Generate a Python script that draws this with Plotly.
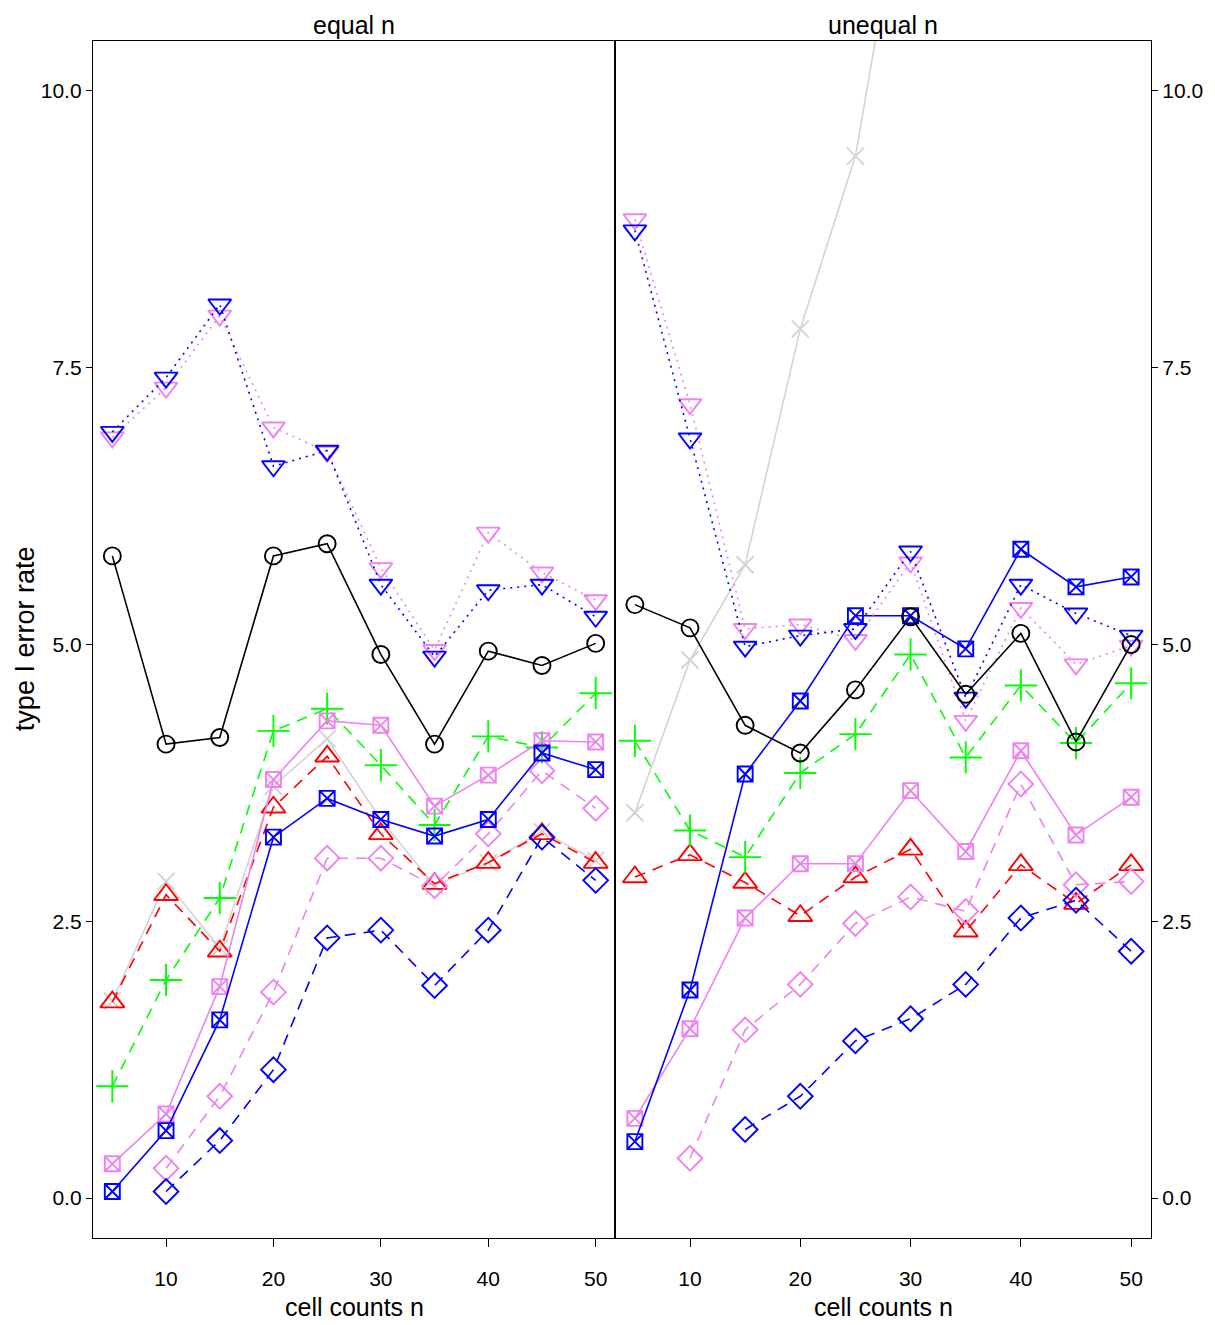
import plotly.graph_objects as go

n = [5, 10, 15, 20, 25, 30, 35, 40, 45, 50]
panels = ["equal n", "unequal n"]
y_ticks = [0.0, 2.5, 5.0, 7.5, 10.0]
y_tick_text = ["0.0", "2.5", "5.0", "7.5", "10.0"]
x_ticks = [10, 20, 30, 40, 50]

# equal n panel
eq_black = [5.80, 4.10, 4.16, 5.80, 5.91, 4.91, 4.10, 4.94, 4.81, 5.01]
eq_grey = [1.78, 2.86, 2.26, 3.72, 4.15, 3.42, 2.82, 3.03, 3.31, 3.05]
eq_red = [1.77, 2.74, 2.23, 3.53, 3.99, 3.29, 2.84, 3.03, 3.29, 3.03]
eq_green = [1.01, 1.97, 2.71, 4.22, 4.42, 3.91, 3.37, 4.17, 4.07, 4.56]
eq_violet_dia = [None, 0.27, 0.92, 1.86, 3.07, 3.07, 2.82, 3.29, 3.86, 3.52]
eq_blue_dia = [None, 0.06, 0.52, 1.16, 2.35, 2.42, 1.92, 2.42, 3.26, 2.87]
eq_violet_sq = [0.31, 0.76, 1.91, 3.78, 4.31, 4.27, 3.54, 3.82, 4.13, 4.12]
eq_blue_sq = [0.06, 0.61, 1.61, 3.26, 3.61, 3.42, 3.27, 3.42, 4.02, 3.87]
eq_violet_tri = [6.87, 7.32, 7.97, 6.96, 6.74, 5.69, 4.95, 6.01, 5.65, 5.40]
eq_blue_tri = [6.92, 7.41, 8.07, 6.61, 6.75, 5.54, 4.89, 5.49, 5.54, 5.25]

# unequal n panel
un_black = [5.36, 5.15, 4.27, 4.02, 4.59, 5.25, 4.55, 5.10, 4.12, 5.00]
un_grey = [3.48, 4.86, 5.72, 7.85, 9.41, 12.3, 14.6, 16.9, 19.2, 21.5]
un_red = [2.90, 3.10, 2.85, 2.55, 2.90, 3.15, 2.41, 3.01, 2.66, 3.01]
un_green = [4.13, 3.32, 3.08, 3.84, 4.19, 4.91, 3.98, 4.63, 4.11, 4.65]
un_violet_dia = [None, 0.36, 1.52, 1.93, 2.48, 2.72, 2.59, 3.74, 2.83, 2.86]
un_blue_dia = [None, None, 0.62, 0.92, 1.42, 1.62, 1.93, 2.53, 2.69, 2.23]
un_violet_sq = [0.72, 1.53, 2.53, 3.02, 3.02, 3.68, 3.13, 4.04, 3.28, 3.62]
un_blue_sq = [0.51, 1.88, 3.83, 4.49, 5.26, 5.26, 4.96, 5.86, 5.52, 5.61]
un_violet_tri = [8.84, 7.17, 5.14, 5.18, 5.04, 5.74, 4.31, 5.33, 4.82, 4.99]
un_blue_tri = [8.74, 6.86, 4.98, 5.08, 5.14, 5.84, 4.52, 5.54, 5.28, 5.08]

BLUE = "#0000FF"
VIOLET = "#EE82EE"
RED = "#FF0000"
GREEN = "#00FF00"
GREY = "#D3D3D3"
BLACK = "#000000"
DOT = "2px,5px"
DASH = "11px,8px"

styles = [
    # key, color, dash, symbol, size
    ("grey", GREY, "solid", "x-thin-open", 17),
    ("red", RED, DASH, "triangle-up-open", 21),
    ("green", GREEN, DASH, "cross-thin-open", 23),
    ("violet_dia", VIOLET, DASH, "diamond-open", 19),
    ("blue_dia", BLUE, DASH, "diamond-open", 19),
    ("violet_sq", VIOLET, "solid", "square-x-open", 15),
    ("blue_sq", BLUE, "solid", "square-x-open", 15),
    ("violet_tri", VIOLET, DOT, "triangle-down-open", 20),
    ("blue_tri", BLUE, DOT, "triangle-down-open", 20),
    ("black", BLACK, "solid", "circle-open", 17),
]

data = {
    0: dict(black=eq_black, grey=eq_grey, red=eq_red, green=eq_green,
            violet_dia=eq_violet_dia, blue_dia=eq_blue_dia,
            violet_sq=eq_violet_sq, blue_sq=eq_blue_sq,
            violet_tri=eq_violet_tri, blue_tri=eq_blue_tri),
    1: dict(black=un_black, grey=un_grey, red=un_red, green=un_green,
            violet_dia=un_violet_dia, blue_dia=un_blue_dia,
            violet_sq=un_violet_sq, blue_sq=un_blue_sq,
            violet_tri=un_violet_tri, blue_tri=un_blue_tri),
}

fig = go.Figure()
for p in (0, 1):
    xa = "x" if p == 0 else "x2"
    ya = "y" if p == 0 else "y2"
    for key, col, dash, sym, size in styles:
        fig.add_trace(go.Scatter(
            x=n, y=data[p][key], mode="lines+markers", xaxis=xa, yaxis=ya,
            line=dict(color=col, width=1.6, dash=dash),
            marker=dict(symbol=sym, size=size, color=col,
                        line=dict(color=col, width=1.9)),
            connectgaps=False, showlegend=False, cliponaxis=True,
        ))

# page has an 8px body margin; figure sized/positioned to compensate
OFF = 8
W, H = 1207, 1317
L = 93 - OFF
T = 41 - OFF
R = W - (1153 - OFF)
B = H - (1238 - OFF)
pw = W - L - R
ph = H - T - B
DIV = 616
split = (DIV - OFF - L) / pw

yr = [-0.36, 10.45]
xr = [3.2, 51.8]
font = "Liberation Sans, Arial, sans-serif"
axis_common = dict(showline=True, linecolor="black", linewidth=1.3, mirror=True,
                   showgrid=False, zeroline=False, ticks="outside",
                   tickcolor="black", tickwidth=1.3,
                   tickfont=dict(family=font, size=21, color="black"))

fig.update_layout(
    width=W, height=H, margin=dict(l=L, r=R, t=T, b=B),
    paper_bgcolor="white", plot_bgcolor="white",
    xaxis=dict(domain=[0, split], range=xr, tickvals=x_ticks, ticklen=8,
               ticklabelstandoff=14, anchor="y", **axis_common),
    xaxis2=dict(domain=[split, 1], range=xr, tickvals=x_ticks, ticklen=8,
                ticklabelstandoff=14, anchor="y2", **axis_common),
    yaxis=dict(domain=[0, 1], range=yr, tickvals=y_ticks, ticktext=y_tick_text,
               ticklen=6, anchor="x", side="left", **axis_common),
    yaxis2=dict(domain=[0, 1], range=yr, tickvals=y_ticks, ticktext=y_tick_text,
                ticklen=6, anchor="x2", side="right", **axis_common),
)


def px_x(px):
    return (px - OFF - L) / pw


def px_y(py):
    return (H - B - (py - OFF)) / ph


ann_font = dict(family=font, size=25, color="black")
centers = [(93 + DIV) / 2, (DIV + 1153) / 2]
for c, title in zip(centers, panels):
    fig.add_annotation(text=title, x=px_x(c), y=px_y(25), xref="paper", yref="paper",
                       showarrow=False, font=ann_font, xanchor="center", yanchor="middle")
    fig.add_annotation(text="cell counts n", x=px_x(c), y=px_y(1307), xref="paper",
                       yref="paper", showarrow=False, font=ann_font,
                       xanchor="center", yanchor="middle")
fig.add_annotation(text="type I error rate", x=px_x(25), y=px_y(639), xref="paper",
                   yref="paper", showarrow=False,
                   font=dict(family=font, size=27, color="black"), textangle=-90,
                   xanchor="center", yanchor="middle")

fig.write_html("out.html")
